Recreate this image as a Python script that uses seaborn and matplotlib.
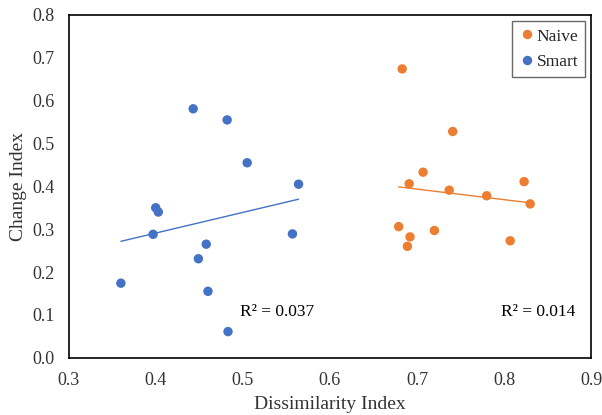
import numpy as np
import pandas as pd
import matplotlib
matplotlib.use("Agg")
import matplotlib.pyplot as plt
import seaborn as sns

# data
smart_x = [0.360, 0.443, 0.482, 0.505, 0.564, 0.400, 0.403, 0.397, 0.557, 0.458, 0.449, 0.460, 0.483]
smart_y = [0.174, 0.581, 0.555, 0.455, 0.405, 0.350, 0.340, 0.288, 0.289, 0.265, 0.231, 0.155, 0.061]
naive_x = [0.683, 0.741, 0.707, 0.691, 0.823, 0.737, 0.780, 0.830, 0.679, 0.720, 0.692, 0.689, 0.807]
naive_y = [0.674, 0.528, 0.433, 0.406, 0.411, 0.391, 0.378, 0.359, 0.306, 0.297, 0.282, 0.260, 0.273]
r2_labels = {"Smart": "R² = 0.037", "Naive": "R² = 0.014"}
x_ticks = [0.3, 0.4, 0.5, 0.6, 0.7, 0.8, 0.9]
y_ticks = [0.0, 0.1, 0.2, 0.3, 0.4, 0.5, 0.6, 0.7, 0.8]

colors = {"Naive": "#ED7D31", "Smart": "#4472C4"}

df = pd.DataFrame({
    "Dissimilarity Index": naive_x + smart_x,
    "Change Index": naive_y + smart_y,
    "group": ["Naive"] * len(naive_x) + ["Smart"] * len(smart_x),
})

sns.set_style("white")
plt.rcParams["font.family"] = ["Liberation Serif", "DejaVu Serif"]

fig, ax = plt.subplots(figsize=(6.02, 4.15), dpi=100)
fig.subplots_adjust(left=0.114, right=0.982, bottom=0.138, top=0.964)

sns.scatterplot(data=df, x="Dissimilarity Index", y="Change Index", hue="group",
                palette=colors, s=46, linewidth=0, ax=ax, zorder=3)

# linear trendlines over each group's range
for g in ["Naive", "Smart"]:
    sub = df[df["group"] == g]
    sns.regplot(data=sub, x="Dissimilarity Index", y="Change Index", scatter=False,
                ci=None, truncate=True, color=colors[g], line_kws={"lw": 1}, ax=ax)

ax.text(0.497, 0.098, r2_labels["Smart"], fontsize=12.5, color="black")
ax.text(0.796, 0.098, r2_labels["Naive"], fontsize=12.5, color="black")

ax.set_xlim(0.3, 0.9)
ax.set_ylim(0, 0.8)
ax.set_xticks(x_ticks)
ax.set_yticks(y_ticks)
ax.set_xticklabels([f"{v:.1f}" for v in x_ticks], fontsize=13)
ax.set_yticklabels([f"{v:.1f}" for v in y_ticks], fontsize=13)
ax.tick_params(direction="in", length=4, width=1, colors="black", labelcolor="#333333", pad=10)
ax.set_xlabel("Dissimilarity Index", fontsize=14, color="#333333", labelpad=5)
ax.set_ylabel("Change Index", fontsize=14, color="#333333", labelpad=4)
for sp in ax.spines.values():
    sp.set_color("black")
    sp.set_linewidth(1.2)
ax.grid(False)

leg = ax.legend(loc="upper right", fontsize=12.5, frameon=True, fancybox=False,
                handletextpad=0.1, handlelength=0.9, borderpad=0.4, borderaxespad=0.0,
                labelspacing=0.55, bbox_to_anchor=(0.989, 0.981))
leg.get_frame().set_edgecolor("#444444")
leg.get_frame().set_linewidth(1.0)
leg.set_title(None)

fig.savefig("out.png", dpi=100)
